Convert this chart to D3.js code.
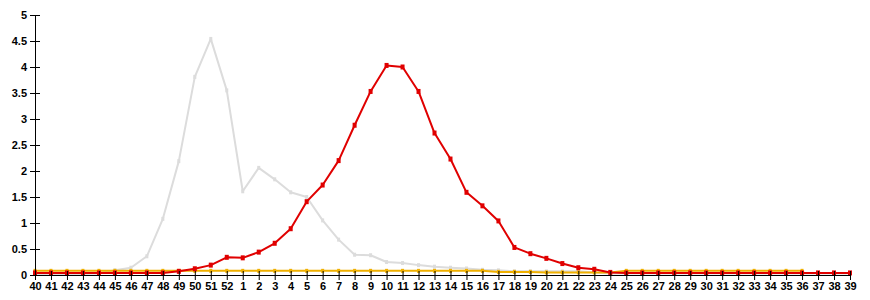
<!DOCTYPE html>
<html><head><meta charset="utf-8">
<script src="https://cdn.jsdelivr.net/npm/d3@7"></script>
<style>body{margin:0;background:#fff;} svg{display:block;}</style>
</head><body>
<svg id="c" width="870" height="300"></svg>
<script>
const weeks = ["40","41","42","43","44","45","46","47","48","49","50","51","52",
  "1","2","3","4","5","6","7","8","9","10","11","12","13","14","15","16","17","18","19","20",
  "21","22","23","24","25","26","27","28","29","30","31","32","33","34","35","36","37","38","39"];
const yTicks = [0,0.5,1,1.5,2,2.5,3,3.5,4,4.5,5];
// previous season (grey)
const greyValues = [0.02,0.02,0.02,0.02,0.03,0.09,0.14,0.36,1.08,2.19,3.81,4.54,3.55,
  1.61,2.06,1.84,1.59,1.50,1.05,0.68,0.39,0.38,0.25,0.23,0.19,0.16,0.14,0.125,0.10,0.09,0.07,0.07,0.07,
  0.07,0.07,0.05,0.03,0.03,0.03,0.03,0.03,0.03,0.03,0.03,0.03,0.03,0.03,0.03,0.03,0.03,0.03,0.03];
// orange series (ends at week 36)
const orangeValues = [0.08,0.08,0.08,0.08,0.08,0.08,0.08,0.08,0.08,0.08,0.08,0.08,0.08,
  0.08,0.08,0.08,0.08,0.08,0.08,0.08,0.08,0.08,0.08,0.08,0.08,0.08,0.08,0.08,0.08,0.06,0.06,0.06,0.05,
  0.05,0.05,0.05,0.05,0.08,0.08,0.08,0.08,0.08,0.08,0.08,0.08,0.08,0.08,0.08,0.08,null,null,null];
// current season (red)
const redValues = [0.04,0.04,0.04,0.04,0.04,0.04,0.04,0.04,0.04,0.07,0.12,0.19,0.34,
  0.33,0.44,0.61,0.89,1.41,1.73,2.20,2.88,3.53,4.03,4.00,3.53,2.73,2.23,1.59,1.33,1.04,0.53,0.41,0.32,
  0.22,0.14,0.11,0.05,0.04,0.04,0.04,0.04,0.04,0.04,0.04,0.04,0.04,0.04,0.04,0.04,0.04,0.04,0.04];

const svg = d3.select("#c");
const x = d3.scalePoint().domain(weeks).range([35, 850]);
const y = d3.scaleLinear().domain([0,5]).range([275,15]);

function series(vals, color, width, ms) {
  const data = weeks.map((w,i)=>({w, v: vals[i]})).filter(d=>d.v!=null);
  svg.append("path").datum(data)
    .attr("fill","none").attr("stroke",color).attr("stroke-width",width)
    .attr("stroke-linejoin","round")
    .attr("d", d3.line().x(d=>x(d.w)).y(d=>y(d.v)));
  svg.append("g").selectAll("rect").data(data).join("rect")
    .attr("x", d=>x(d.w)-ms/2).attr("y", d=>y(d.v)-ms/2-0.5)
    .attr("width", ms).attr("height", ms+1).attr("fill", color);
}
series(greyValues, "#dcdcdc", 2, 3);
series(orangeValues, "#f0b000", 2, 3);
series(redValues, "#e00000", 2, 4);

const font = 'bold 11px "Liberation Sans", Arial, sans-serif';
const gx = svg.append("g").attr("transform","translate(0,275)")
  .call(d3.axisBottom(x).tickSizeOuter(0).tickSize(5));
gx.selectAll(".tick line").attr("y1",-4).attr("y2",5).attr("stroke","#000");
gx.selectAll(".tick text").attr("y",7).style("font",font).attr("fill","#000");
gx.select(".domain").attr("stroke","#000");

const gy = svg.append("g").attr("transform","translate(35,0)")
  .call(d3.axisLeft(y).tickValues(yTicks).tickFormat(d3.format("")).tickSizeOuter(0).tickSize(5));
gy.selectAll(".tick line").attr("x1",-5).attr("x2",5).attr("stroke","#000");
gy.selectAll(".tick text").attr("x",-8).style("font",font).attr("fill","#000");
gy.select(".domain").attr("stroke","#000");
</script>
</body></html>
